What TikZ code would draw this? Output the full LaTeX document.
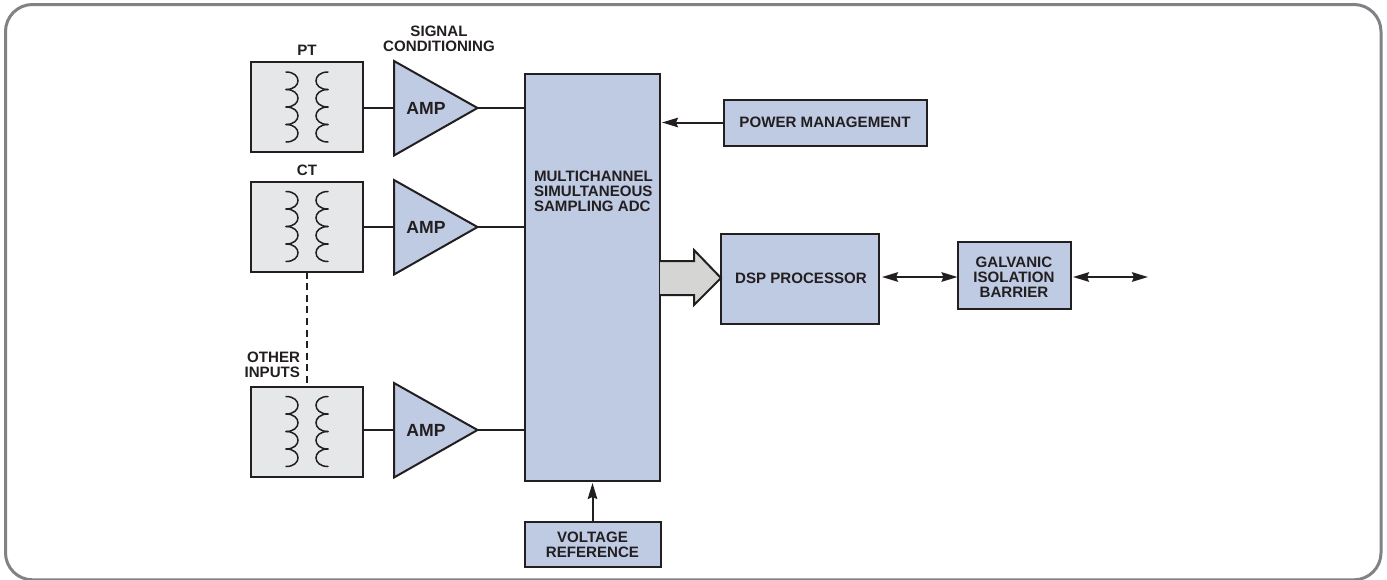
\documentclass[tikz,border=0pt]{standalone}
\usepackage{fontspec}
\setmainfont{Liberation Sans}
\usetikzlibrary{arrows.meta}
\definecolor{ink}{HTML}{231F20}
\definecolor{blockblue}{HTML}{BFCAE3}
\definecolor{lightgrey}{HTML}{E6E7E8}
\definecolor{arrowgrey}{HTML}{D5D5D3}
\definecolor{framegrey}{HTML}{808285}
\tikzset{
  x=1pt,y=-1pt,
  every node/.style={inner sep=0pt,outer sep=0pt,text=ink,font=\bfseries\fontsize{15.1}{15}\selectfont},
  blue box/.style={draw=ink,fill=blockblue,line width=2pt,align=center},
  grey box/.style={draw=ink,fill=lightgrey,line width=2pt,minimum width=112pt,minimum height=90pt},
  amp shape/.style={draw=ink,fill=blockblue,line width=2pt,line join=miter},
  amp text/.style={font=\bfseries\fontsize{17.6}{18}\selectfont},
  wire/.style={draw=ink,line width=2pt},
  coil/.style={draw=ink,line width=1.5pt,line cap=round},
  tip/.style={draw=ink,line width=2pt,shorten >=2pt,-{Stealth[length=16pt,width=9.5pt,inset=2pt]}},
  tips/.style={draw=ink,line width=2pt,{Stealth[length=16pt,width=9.5pt,inset=2pt]}-{Stealth[length=16pt,width=9.5pt,inset=2pt]}},
}
\newcommand{\coilpair}[2]{%
  \foreach \k in {0,1,2,3}{%
    \pgfmathsetmacro{\ya}{#2+\k*17.5}\pgfmathsetmacro{\yb}{#2+(\k+1)*17.5}%
    \draw[coil] (#1-21,\ya) .. controls (#1-5,\ya) and (#1-5,\yb) .. (#1-21,\yb);
    \draw[coil] (#1+21,\ya) .. controls (#1+5,\ya) and (#1+5,\yb) .. (#1+21,\yb);
  }}
\begin{document}
\begin{tikzpicture}
\useasboundingbox (0,0) rectangle (1387,579);
\fill[white] (0,0) rectangle (1387,579);
\clip (0,0) rectangle (1387,579);
\draw[framegrey,line width=3pt,rounded corners=27pt] (5.5,4.5) rectangle (1381,579.8);

% transformer boxes
\node[grey box] (pt) at (307,107) {};
\node[grey box] (ct) at (307,226.5) {};
\node[grey box] (oi) at (307,431.5) {};
\coilpair{307}{72}
\coilpair{307}{191.5}
\coilpair{307}{396.5}

% amplifiers
\coordinate (a1b) at (394,108);
\coordinate (a1t) at (477.5,108);
\coordinate (a2b) at (394,227);
\coordinate (a2t) at (477.5,227);
\coordinate (a3b) at (394,430);
\coordinate (a3t) at (477.5,430);
\filldraw[amp shape] (394,61) -- (a1t) -- (394,155.5) -- cycle;
\filldraw[amp shape] (394,180) -- (a2t) -- (394,274.5) -- cycle;
\filldraw[amp shape] (394,383) -- (a3t) -- (394,477.5) -- cycle;
\node[amp text] (amp1) at (426,108.5) {AMP};
\node[amp text] (amp2) at (426,227.5) {AMP};
\node[amp text] (amp3) at (426,430.5) {AMP};

% blocks
\node[blue box,minimum width=135pt,minimum height=407pt] (adc) at (592.5,277.5) {};
\node[anchor=west,align=left] (adctext) at (534,191) {MULTICHANNEL\\SIMULTANEOUS\\SAMPLING ADC};
\node[blue box,minimum width=203pt,minimum height=46pt] (pwr) at (825,122.5) {POWER MANAGEMENT};
\node[blue box,minimum width=136pt,minimum height=45pt] (vref) at (592.5,544) {};
\node[align=center] (vreftext) at (592.5,544.7) {VOLTAGE\\REFERENCE};
\node[blue box,minimum width=158pt,minimum height=90pt] (dsp) at (800,279) {};
\node (dsptext) at (801,278) {DSP PROCESSOR};
\node[blue box,minimum width=113pt,minimum height=67pt] (gal) at (1014,275) {};
\node[align=center] (galtext) at (1014,277) {GALVANIC\\ISOLATION\\BARRIER};
\coordinate (dspr) at (882,277);
\coordinate (galr) at (1073,277);
\coordinate (free) at (1148,277);

% wires
\draw[wire] (pt.east |- a1b) -- (a1b);
\draw[wire] (ct.east |- a2b) -- (a2b);
\draw[wire] (oi.east |- a3b) -- (a3b);
\draw[wire] (a1t) -- (adc.west |- a1t);
\draw[wire] (a2t) -- (adc.west |- a2t);
\draw[wire] (a3t) -- (adc.west |- a3t);
\draw[wire,dash pattern=on 7pt off 4.6pt] (ct.south) -- (oi.north);
\draw[tip] (pwr.west) -- (adc.east |- pwr.west);
\draw[tip] (vref.north) -- (adc.south);
\draw[tips] (dspr) -- (gal.west |- dspr);
\draw[tips] (galr) -- (free);

% bus arrow
\filldraw[draw=ink,fill=arrowgrey,line width=2pt,line join=miter]
  (adc.east |- 0,261) -- (694,261) -- (694,250) -- (dsp.west |- 0,278) -- (694,305) -- (694,295) -- (adc.east |- 0,295);

% labels
\node (ptl) at (307,50) {PT};
\node (ctl) at (307,170) {CT};
\node[align=center] (sig) at (439,38.5) {SIGNAL\\CONDITIONING};
\node[align=right,anchor=east] (oth) at (300,365) {OTHER\\INPUTS};
\end{tikzpicture}
\end{document}
